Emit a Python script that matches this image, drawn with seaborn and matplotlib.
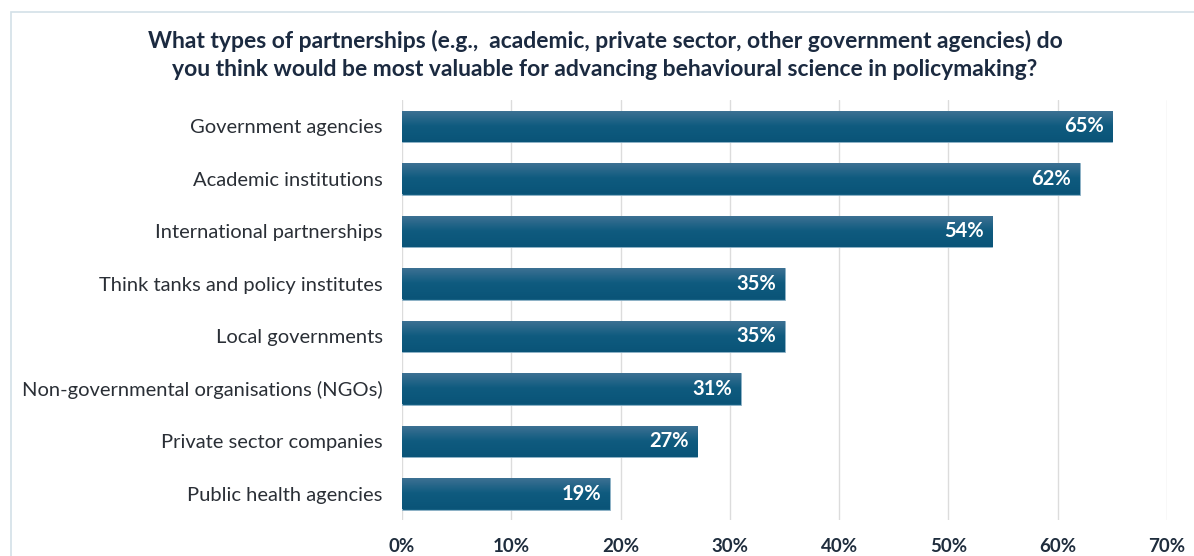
import matplotlib
matplotlib.use("Agg")
import matplotlib.pyplot as plt
import seaborn as sns
import pandas as pd
import numpy as np
from matplotlib.patches import Rectangle
from matplotlib.colors import LinearSegmentedColormap

categories = [
    "Government agencies",
    "Academic institutions",
    "International partnerships",
    "Think tanks and policy institutes",
    "Local governments",
    "Non-governmental organisations (NGOs)",
    "Private sector companies",
    "Public health agencies",
]
shares = [65, 62, 54, 35, 35, 31, 27, 19]
xticks = [0, 10, 20, 30, 40, 50, 60, 70]
xtick_labels = ["0%", "10%", "20%", "30%", "40%", "50%", "60%", "70%"]

title = ("What types of partnerships (e.g.,  academic, private sector, other government agencies) do\n"
         "you think would be most valuable for advancing behavioural science in policymaking?")

df = pd.DataFrame({"category": categories, "share": shares})

sns.set_theme(style="white")
plt.rcParams["font.family"] = ["Lato", "DejaVu Sans"]

W, H = 1194, 556
fig = plt.figure(figsize=(W / 100, H / 100), dpi=100)
fig.patch.set_facecolor("white")

# thin frame around the chart area
fig.add_artist(Rectangle((11 / W, -0.01), 1.0, 1 - 12 / H + 0.01,
                         transform=fig.transFigure, fill=False,
                         edgecolor="#d3e0e8", linewidth=1.2))

ax = fig.add_axes([402 / W, 1 - 520 / H, 765 / W, 420 / H])

bar_color = "#155f82"
sns.barplot(data=df, x="share", y="category", orient="h", color=bar_color,
            width=0.6, saturation=1, ax=ax, zorder=3)

# vertical gradient on each bar: lighter top edge, darker bottom
grad = np.linspace(0, 1, 64).reshape(-1, 1)
cmap = LinearSegmentedColormap.from_list("bar", ["#3f7294", "#0f5b7f", "#0a5478"])
for p in list(ax.patches):
    x0, y0 = p.get_x(), p.get_y()
    w, h = p.get_width(), p.get_height()
    im = ax.imshow(grad, extent=(x0, x0 + w, y0 + h, y0), aspect="auto",
                   cmap=cmap, zorder=3.5, interpolation="bicubic")
    im.set_clip_path(p)
    p.set_edgecolor("#8fb3c8")
    p.set_linewidth(0.6)

for i, v in enumerate(shares):
    ax.text(v - 0.8, i, f"{v}%", ha="right", va="center", color="white",
            fontsize=14.5, fontweight="bold", zorder=5)

ax.set_xlim(0, 70)
ax.set_ylim(7.5, -0.5)
ax.set_xticks(xticks)
ax.set_xticklabels(xtick_labels)
ax.xaxis.grid(True, color="#dcdcdc", linewidth=1.0, zorder=0)
ax.set_axisbelow(True)
for s in ax.spines.values():
    s.set_visible(False)
ax.set_xlabel("")
ax.set_ylabel("")
ax.tick_params(axis="x", length=0, pad=13, labelsize=13.5, labelcolor="#1f2d3d")
ax.tick_params(axis="y", length=0, pad=14, labelsize=14.5, labelcolor="#2a2f36")
for lab in ax.get_xticklabels():
    lab.set_fontweight("bold")

fig.text(605 / W, 1 - 55 / H, title, ha="center", va="center",
         fontsize=16.5, fontweight="bold", color="#1b2a40", linespacing=1.4)

fig.savefig("out.png", dpi=100, facecolor="white")
